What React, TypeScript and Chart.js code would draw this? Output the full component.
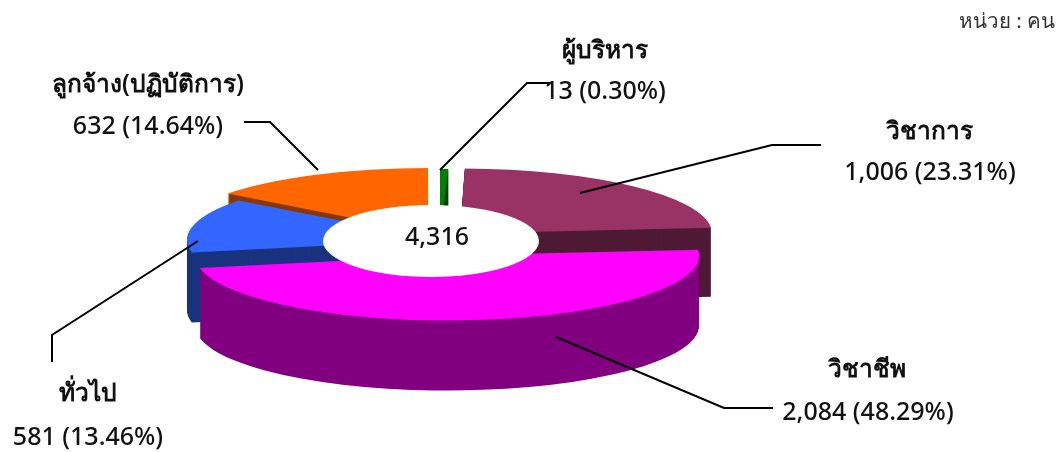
import React, { useEffect, useRef } from "react";
import { Chart, registerables } from "chart.js";

Chart.register(...registerables);

// Data, in the chart's clockwise order starting at 12 o'clock
const categories = ["ผู้บริหาร", "วิชาการ", "วิชาชีพ", "ทั่วไป", "ลูกจ้าง(ปฏิบัติการ)"];
const values = [13, 1006, 2084, 581, 632];
const valueLabels = ["13 (0.30%)", "1,006 (23.31%)", "2,084 (48.29%)", "581 (13.46%)", "632 (14.64%)"];
const totalLabel = "4,316";
const unitLabel = "หน่วย : คน";

// Colours
const topColors = ["#008000", "#993366", "#FF00FF", "#3366FF", "#FF6600"];
const wallColors = ["#004000", "#4F1A35", "#800080", "#1A3380", "#883800"];

// 3D layout (projected slice centres and ellipse radii, px)
const sliceCx = [440, 460, 447, 439, 428];
const sliceCy = [234, 233.5, 255.5, 240, 233];
const sliceRx = [440, 252, 252, 252, 252];
const sliceRy = [65, 65, 65, 65, 65];
const sliceDepth = [68, 69, 70, 70, 30];
const paintOrder = [4, 0, 1, 3, 2];
const hole = { x: 431, y: 241, rx: 108, ry: 36 };

const FONT = '"Noto Sans", Tahoma, sans-serif';
const nameCx = [605, 929, 867, 88, 148];
const nameCy = [51, 132, 370, 394, 85];
const valueCx = [605, 930, 868, 88, 148];
const valueCy = [92, 173, 413, 438, 127];
const leaders = [
  [[440, 170], [527, 83], [552, 83]],
  [[580, 193], [772, 145], [821, 145]],
  [[556, 337], [724, 408], [773, 408]],
  [[198, 241], [52, 335], [52, 362]],
  [[318, 170], [270, 122], [244, 122]],
];

const pie3d = {
  id: "pie3d",
  beforeDatasetsDraw(chart: any) {
    const ctx = chart.ctx;
    const arcs = chart.getDatasetMeta(0).data;
    for (const i of paintOrder) {
      const arc = arcs[i];
      const base = arc.options;
      const R = arc.outerRadius;
      const place = (dy: number) => {
        ctx.translate(sliceCx[i], sliceCy[i] + dy);
        ctx.scale(sliceRx[i] / R, sliceRy[i] / R);
        ctx.translate(-arc.x, -arc.y);
      };
      arc.options = { ...base, backgroundColor: wallColors[i], borderWidth: 0 };
      for (let d = sliceDepth[i]; d > 0; d--) {
        ctx.save();
        place(d);
        arc.draw(ctx);
        ctx.restore();
      }
      arc.options = { ...base, backgroundColor: topColors[i], borderWidth: 0 };
      ctx.save();
      place(0);
      arc.draw(ctx);
      ctx.restore();
      arc.options = base;
    }
    return false;
  },
  afterDraw(chart: any) {
    const ctx = chart.ctx;
    ctx.save();
    ctx.fillStyle = "#FFFFFF";
    ctx.beginPath();
    ctx.ellipse(hole.x, hole.y, hole.rx, hole.ry, 0, 0, Math.PI * 2);
    ctx.fill();

    ctx.strokeStyle = "#000000";
    ctx.lineWidth = 2;
    for (const pts of leaders) {
      ctx.beginPath();
      pts.forEach(([x, y], k) => (k ? ctx.lineTo(x, y) : ctx.moveTo(x, y)));
      ctx.stroke();
    }

    ctx.fillStyle = "#111111";
    ctx.textBaseline = "middle";
    ctx.textAlign = "center";
    categories.forEach((c, i) => {
      ctx.font = `600 24.5px ${FONT}`;
      ctx.fillText(c, nameCx[i], nameCy[i]);
      ctx.font = `500 25px ${FONT}`;
      ctx.fillText(valueLabels[i], valueCx[i], valueCy[i]);
    });
    ctx.fillText(totalLabel, 437, 238);
    ctx.textAlign = "right";
    ctx.fillStyle = "#333333";
    ctx.font = `400 20.5px ${FONT}`;
    ctx.fillText(unitLabel, 1055, 22);
    ctx.restore();
  },
};

export default function App() {
  const ref = useRef<HTMLCanvasElement>(null);
  useEffect(() => {
    const chart = new Chart(ref.current as HTMLCanvasElement, {
      type: "pie",
      data: {
        labels: categories,
        datasets: [{ data: values, backgroundColor: topColors, borderWidth: 0 }],
      },
      options: {
        responsive: false,
        animation: false,
        rotation: 0,
        plugins: { legend: { display: false }, tooltip: { enabled: false } },
      },
      plugins: [pie3d],
    } as any);
    return () => chart.destroy();
  }, []);
  return (
    <div style={{ position: "absolute", left: 0, top: 0, width: 1056, height: 452 }}>
      <canvas ref={ref} width={1056} height={452} style={{ display: "block" }} />
    </div>
  );
}
